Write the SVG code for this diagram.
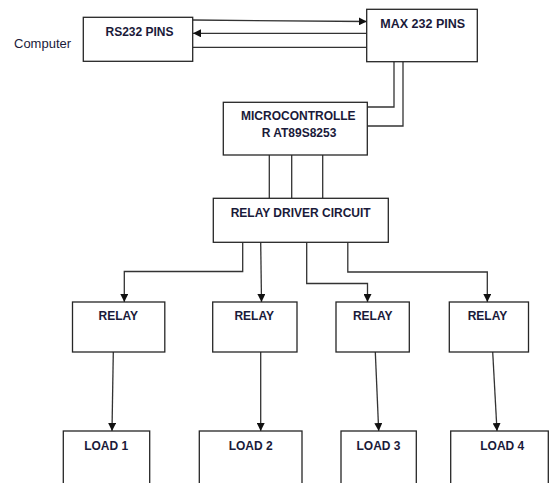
<svg xmlns="http://www.w3.org/2000/svg" width="549" height="483" viewBox="0 0 549 483">
<style>
.box{fill:#fff;stroke:#262626;stroke-width:1.3}
.ln{fill:none;stroke:#333;stroke-width:1.3}
.arr{marker-end:url(#ah)}
.lbl{font-family:"Liberation Sans",Arial,sans-serif;font-weight:bold;font-size:12px;fill:#1a1a3a;text-anchor:middle}
.plain{font-family:"Liberation Sans",Arial,sans-serif;font-size:13px;fill:#1a1a3a}
</style>
<defs>
<marker id="ah" viewBox="0 0 10 10" refX="10" refY="5" markerWidth="8" markerHeight="8" markerUnits="userSpaceOnUse" orient="auto">
<path d="M0,0 L10,5 L0,10 Z" fill="#111"/>
</marker>
</defs>
<rect width="549" height="483" fill="#fff"/>
<text class="plain" x="14" y="47.5">Computer</text>
<g id="connectors">
<line class="ln arr" x1="192.7" y1="20" x2="366.7" y2="21.5"/>
<line class="ln arr" x1="366.7" y1="33.3" x2="193" y2="33.3"/>
<line class="ln" x1="192.7" y1="47.3" x2="366.7" y2="47.3"/>
<polyline class="ln" points="394,61.7 394,107 367.3,107"/>
<polyline class="ln" points="403,61.7 403,126 367.3,126"/>
<line class="ln" x1="269.3" y1="155" x2="269.3" y2="198.3"/>
<line class="ln" x1="291.7" y1="155" x2="291.7" y2="198.3"/>
<line class="ln" x1="322.7" y1="155" x2="322.7" y2="198.3"/>
<polyline class="ln arr" points="242.7,242.3 242.7,271.5 124.3,271.5 124.3,302"/>
<line class="ln arr" x1="260.7" y1="242.3" x2="261.5" y2="302"/>
<polyline class="ln arr" points="306.7,242.3 306.7,283.5 367.5,283.5 367.5,302"/>
<polyline class="ln arr" points="347.8,242.3 347.8,272 487.3,272 487.3,302"/>
<line class="ln arr" x1="113.3" y1="352" x2="112" y2="431"/>
<line class="ln arr" x1="260.7" y1="352" x2="260.7" y2="431"/>
<line class="ln arr" x1="375.3" y1="352" x2="378.7" y2="431"/>
<line class="ln arr" x1="492.7" y1="352" x2="497" y2="431"/>
</g>
<g id="rs232">
<rect class="box" x="83.3" y="17.3" width="109.4" height="44"/>
<text class="lbl" x="139.5" y="36">RS232 PINS</text>
</g>
<g id="max232">
<rect class="box" x="366.7" y="9.3" width="110.6" height="52.4"/>
<text class="lbl" x="422.7" y="28.3" style="font-size:12.5px">MAX 232 PINS</text>
</g>
<g id="micro">
<rect class="box" x="223.3" y="102.3" width="144" height="52.7"/>
<text class="lbl" x="298.3" y="119.5">MICROCONTROLLE</text>
<text class="lbl" x="299" y="136.7">R AT89S8253</text>
</g>
<g id="driver">
<rect class="box" x="213.3" y="198.3" width="175" height="44"/>
<text class="lbl" x="300.7" y="216.7">RELAY DRIVER CIRCUIT</text>
</g>
<g id="relay1">
<rect class="box" x="72.5" y="302" width="92.3" height="50"/>
<text class="lbl" x="118.3" y="320">RELAY</text>
</g>
<g id="relay2">
<rect class="box" x="212.7" y="302" width="84.3" height="50"/>
<text class="lbl" x="254.2" y="320">RELAY</text>
</g>
<g id="relay3">
<rect class="box" x="336" y="302" width="73.3" height="50"/>
<text class="lbl" x="372.7" y="320">RELAY</text>
</g>
<g id="relay4">
<rect class="box" x="449.3" y="302" width="79.2" height="50"/>
<text class="lbl" x="487.5" y="320">RELAY</text>
</g>
<g id="load1">
<rect class="box" x="63.3" y="431" width="86.4" height="60"/>
<text class="lbl" x="106.2" y="450">LOAD 1</text>
</g>
<g id="load2">
<rect class="box" x="199.3" y="431" width="102.7" height="60"/>
<text class="lbl" x="250.7" y="450">LOAD 2</text>
</g>
<g id="load3">
<rect class="box" x="341" y="431" width="75.3" height="60"/>
<text class="lbl" x="378.5" y="450">LOAD 3</text>
</g>
<g id="load4">
<rect class="box" x="450.7" y="431" width="97.6" height="60"/>
<text class="lbl" x="502.3" y="450">LOAD 4</text>
</g>
</svg>
